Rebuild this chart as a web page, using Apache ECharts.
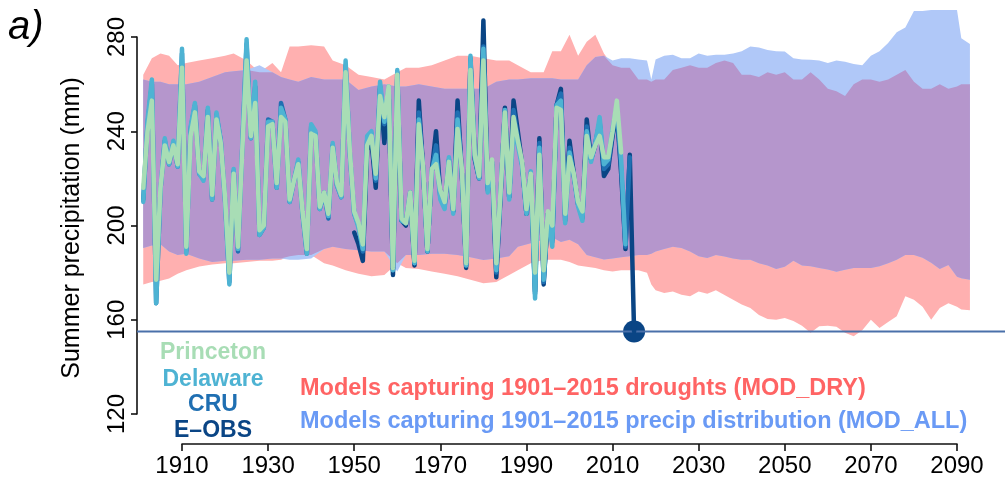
<!DOCTYPE html>
<html><head><meta charset="utf-8">
<script src="https://cdn.jsdelivr.net/npm/echarts@6/dist/echarts.min.js"></script>
<style>html,body{margin:0;padding:0;background:#fff}#c{width:1005px;height:484px}</style>
</head><body><div id="c"></div>
<script>
// ---------- DATA ----------
const xTicks = [1910, 2090, 20];      // min, max, step
const yTicks = [120, 280, 40];

const princetonStart = 1901;
const princeton = [
216,240,253,177,216,234,227,234,226,267,
191,238,248,223,221,246,213,245,235,212,
180,222,191,232,270,238,252,198,200,242,
243,218,246,244,211,219,226,206,190,239,
238,208,214,205,233,218,213,265,231,206,
201,192,234,238,222,255,246,259,182,264,
203,201,214,185,243,225,190,224,226,215,
210,227,207,241,224,184,266,230,221,270,
218,228,184,215,248,214,246,236,227,207,
222,180,230,181,206,200,250,249,205,229,
222,210,206,238,229,234,238,229,229,240,
253,231];

const delawareStart = 1901;
const delaware = [
210,245,262,167,215,237,226,236,225,275,
188,242,252,222,219,250,211,248,236,210,
175,224,190,234,279,237,261,196,199,244,
244,216,250,245,210,219,228,205,188,243,
240,207,214,204,235,217,212,270,230,205,
199,190,238,240,220,261,244,259,181,266,
202,201,214,184,245,224,189,223,230,211,
207,229,205,245,222,183,272,229,220,275,
214,227,181,214,249,211,241,234,225,205,
223,169,233,177,205,191,251,253,201,231,
221,208,202,240,227,235,246,226,228,241,
251,228,192];

const cruStart = 1901;
const cru = [
211,243,260,167,215,236,226,235,225,273,
189,241,251,222,220,249,211,247,236,211,
176,223,189,233,277,237,259,196,199,245,
244,216,252,245,210,219,227,205,188,242,
239,207,214,203,234,217,212,268,230,205,
200,189,236,239,219,259,243,258,181,265,
202,201,214,184,248,224,189,223,234,212,
208,228,206,248,222,183,271,229,220,276,
215,227,180,214,249,212,249,237,226,205,
222,171,235,176,205,193,251,256,202,233,
221,209,203,242,228,235,244,224,226,239,
249,224,191,229];

const eobsStart = 1950;
const eobs = [
197,192,185,232,236,216,258,235,256,179,
263,202,200,213,183,253,224,189,223,240,
213,209,226,206,253,222,182,270,228,220,
287,216,226,178,213,250,212,253,240,226,
205,222,172,237,175,205,194,251,258,204,
236,222,209,204,245,228,234,243,221,224,
238,248,222,190,230,155];

const bandYears = [
1901,1903,1905,1907,1909,1911,1914,1917,1920,1922,
1925,1928,1931,1933,1935,1937,1940,1943,1945,1948,
1951,1954,1957,1960,1962,1965,1968,1971,1974,1977,
1980,1983,1986,1988,1991,1994,1996,1998,2000,2002,
2004,2006,2008,2010,2012,2014,2016,2018,2019,2020,
2022,2024,2026,2028,2030,2032,2034,2036,2038,2040,
2042,2044,2046,2048,2050,2052,2054,2056,2058,2060,
2062,2064,2066,2068,2070,2072,2074,2076,2078,2080,
2082,2084,2086,2088,2090,2091,2093];

const modDryHigh = [
264,271,273,272,268,269,270,271,272,273,
270,265,269,265,276,276,276.5,276,270,268,
264,263,262,265,267,267,268,270,272,272,
271,270,270,268,265,265,274,274,281,272,
278,281,273,268,267,267,262,262,261,262,
262,266,267,268,267,267,269,270,269,264,
264,263,265,264,265,262,262,265,262,258,
257,255,260,262,262,261,262,264,266,261,
258,258,260,258,259,260,260];

const modDryLow = [
175,176,176.5,177.5,179.5,181,182.6,183.5,184,184,
184.5,185,185,185.5,187,187.5,187.5,184,183,181,
179.5,178.5,179,184,182,181.5,180.5,179.5,178.5,177,
175.5,176,179,181,184,185.5,185.5,185.5,184.5,183,
182.5,182,181,180.5,181,181,181,180,175,172.5,
171.3,172,170.6,170,172,171,172.5,170.5,168.5,166.5,
165,162,160.3,160,160.7,159.5,157.5,154.5,157.2,157.5,
157,154.5,153,155.5,160,156.5,159,161.5,170,168.5,
165.5,160,165,167,165.5,164.3,164];

const modAllHigh = [
262,261,261,260,260,260,261,263,265,265.5,
266,268,265,263,262,261,263,262,262,262,
257.5,259,260,259,259,260,259,258,258,258,
258,261,262,262,262.5,262.5,262.5,262,262,262,
268,271.5,272,270,271,271,270.5,270,262,270.5,
272,272.5,271,271,273,272,272.5,272.5,273,274,
276,275.5,274.5,274,273.8,271,270.5,270.3,270,269,
270,269.5,268.5,268,272,274,277.5,282,284,291,
291,291.5,291.5,291.5,291.5,279.5,277];

const modAllLow = [
190.5,191.5,192,189,187.5,188,186,184.5,185,185,
185.5,185.5,186,186,185.5,185.5,186,190,191,190,
189.5,189,189,180.5,187.5,187.5,188,188,187.5,186.5,
185.4,186,187,191,192.5,194,195,193,194,192,
187.5,186.5,185.6,186,186.5,187,187.5,187.5,188,189,
190,191,190.5,189,187,186.2,187.5,186.8,186,185.5,
185.5,184,183,181.5,182.5,185,183,182.7,182,181.3,
180.4,181.2,182,182,182,182.7,184,185.5,187.5,187.5,
186.3,184.2,181.5,183.2,178.3,177.6,177];

// ---------- LAYOUT (axis frame vs. full plotting region) ----------
const FONT = "'Liberation Sans', Arial, Helvetica, sans-serif";
const AX = {left: 182, right: 48, top: 37, bottom: 70};      // axis frame (1910-2090, 120-280)
const W = 1005, H = 484;
const pxPerX = (W - AX.left - AX.right) / (xTicks[1] - xTicks[0]);
const pxPerY = (H - AX.top - AX.bottom) / (yTicks[1] - yTicks[0]);
const PLOT = {left: 137, right: 0, top: 0, bottom: 70};      // full plotting region
const plotXMin = xTicks[0] - (AX.left - PLOT.left) / pxPerX;
const plotXMax = xTicks[1] + (AX.right - PLOT.right) / pxPerX;
const plotYMax = yTicks[1] + (AX.top - PLOT.top) / pxPerY;

// ---------- BUILD ----------
const pairs = (start, vals) => vals.map((v, i) => [start + i, v]);
const bothLow = modDryLow.map((v, i) => Math.max(v, modAllLow[i]));
const bothHigh = modDryHigh.map((v, i) => Math.min(v, modAllHigh[i]));

function band(lo, hi, color) {
  return {
    type: 'custom', xAxisIndex: 0, yAxisIndex: 0, clip: false, silent: true,
    data: [[bandYears[0], lo[0]]],
    renderItem: (params, api) => {
      const pts = [];
      for (let i = 0; i < bandYears.length; i++) pts.push(api.coord([bandYears[i], hi[i]]));
      for (let i = bandYears.length - 1; i >= 0; i--) pts.push(api.coord([bandYears[i], lo[i]]));
      return {type: 'polygon', shape: {points: pts}, style: {fill: color}};
    }
  };
}
function obsLine(name, start, vals, color, width) {
  return {type: 'line', name, xAxisIndex: 0, yAxisIndex: 0, data: pairs(start, vals),
    showSymbol: false, clip: false,
    lineStyle: {color, width, join: 'round', cap: 'round'}};
}
const lastYear = eobsStart + eobs.length - 1;
const lastVal = eobs[eobs.length - 1];

const C = {
  dry: '#ffb0b0', all: '#b0c8f8', both: '#b596cc',
  princeton: '#a8ddb5', delaware: '#4eb3d3', cru: '#1f6fb2', eobs: '#0a4585',
  hline: '#4a70aa', dryText: '#ff6464', allText: '#6a9af5'
};
const axisStyle = {color: '#111', width: 1.6};

const option = {
  animation: false,
  grid: [
    {left: PLOT.left, right: PLOT.right, top: PLOT.top, bottom: PLOT.bottom, containLabel: false, outerBoundsMode: 'none'},
    {left: AX.left, right: AX.right, top: AX.top, bottom: AX.bottom, containLabel: false, outerBoundsMode: 'none'}
  ],
  xAxis: [
    {type: 'value', gridIndex: 0, min: plotXMin, max: plotXMax, show: false},
    {type: 'value', gridIndex: 1, position: 'bottom', min: xTicks[0], max: xTicks[1], interval: xTicks[2], offset: 30,
     axisLine: {show: true, onZero: false, lineStyle: axisStyle},
     axisTick: {show: true, length: 7, lineStyle: axisStyle},
     axisLabel: {fontSize: 24, color: '#000', margin: 10, fontFamily: FONT, formatter: v => String(v)},
     splitLine: {show: false}}
  ],
  yAxis: [
    {type: 'value', gridIndex: 0, min: yTicks[0], max: plotYMax, show: false},
    {type: 'value', gridIndex: 1, position: 'left', min: yTicks[0], max: yTicks[1], interval: yTicks[2], offset: 45,
     axisLine: {show: true, onZero: false, lineStyle: axisStyle},
     axisTick: {show: true, length: 6, lineStyle: axisStyle},
     axisLabel: {fontSize: 24, color: '#000', margin: 8, rotate: 90, fontFamily: FONT, formatter: v => String(v)},
     splitLine: {show: false}}
  ],
  graphic: [
    {type: 'text', left: 8, top: 8, style: {text: 'a)', font: 'italic 40px ' + FONT, fill: '#000'}},
    {type: 'text', x: 72, y: 228, rotation: Math.PI / 2,
     style: {text: 'Summer precipitation (mm)', font: '25px ' + FONT, fill: '#000', align: 'center', verticalAlign: 'middle'}},
    {type: 'text', x: 213, y: 353, style: {text: 'Princeton', font: 'bold 23px ' + FONT, fill: C.princeton, align: 'center', verticalAlign: 'middle'}},
    {type: 'text', x: 213, y: 380, style: {text: 'Delaware', font: 'bold 23px ' + FONT, fill: C.delaware, align: 'center', verticalAlign: 'middle'}},
    {type: 'text', x: 213, y: 405, style: {text: 'CRU', font: 'bold 23px ' + FONT, fill: C.cru, align: 'center', verticalAlign: 'middle'}},
    {type: 'text', x: 213, y: 431, style: {text: 'E\u2013OBS', font: 'bold 23px ' + FONT, fill: C.eobs, align: 'center', verticalAlign: 'middle'}},
    {type: 'text', x: 300, y: 389, style: {text: 'Models capturing 1901\u20132015 droughts (MOD_DRY)', font: 'bold 23.5px ' + FONT, fill: C.dryText, align: 'left', verticalAlign: 'middle'}},
    {type: 'text', x: 300, y: 422, style: {text: 'Models capturing 1901\u20132015 precip distribution (MOD_ALL)', font: 'bold 23.5px ' + FONT, fill: C.allText, align: 'left', verticalAlign: 'middle'}}
  ],
  series: [
    band(modDryLow, modDryHigh, C.dry),
    band(modAllLow, modAllHigh, C.all),
    band(bothLow, bothHigh, C.both),
    {type: 'line', xAxisIndex: 0, yAxisIndex: 0, data: [[plotXMin, lastVal], [plotXMax, lastVal]],
     showSymbol: false, clip: false, silent: true, lineStyle: {color: C.hline, width: 2}},
    obsLine('E-OBS', eobsStart, eobs, C.eobs, 4.5),
    obsLine('CRU', cruStart, cru, C.cru, 4.5),
    obsLine('Delaware', delawareStart, delaware, C.delaware, 4.5),
    obsLine('Princeton', princetonStart, princeton, C.princeton, 4.5),
    {type: 'scatter', xAxisIndex: 0, yAxisIndex: 0, data: [[lastYear, lastVal]], symbolSize: 22, clip: false,
     itemStyle: {color: C.eobs, opacity: 1}}
  ]
};
const chart = echarts.init(document.getElementById('c'), null, {renderer: 'canvas'});
chart.setOption(option);
</script>
</body></html>
